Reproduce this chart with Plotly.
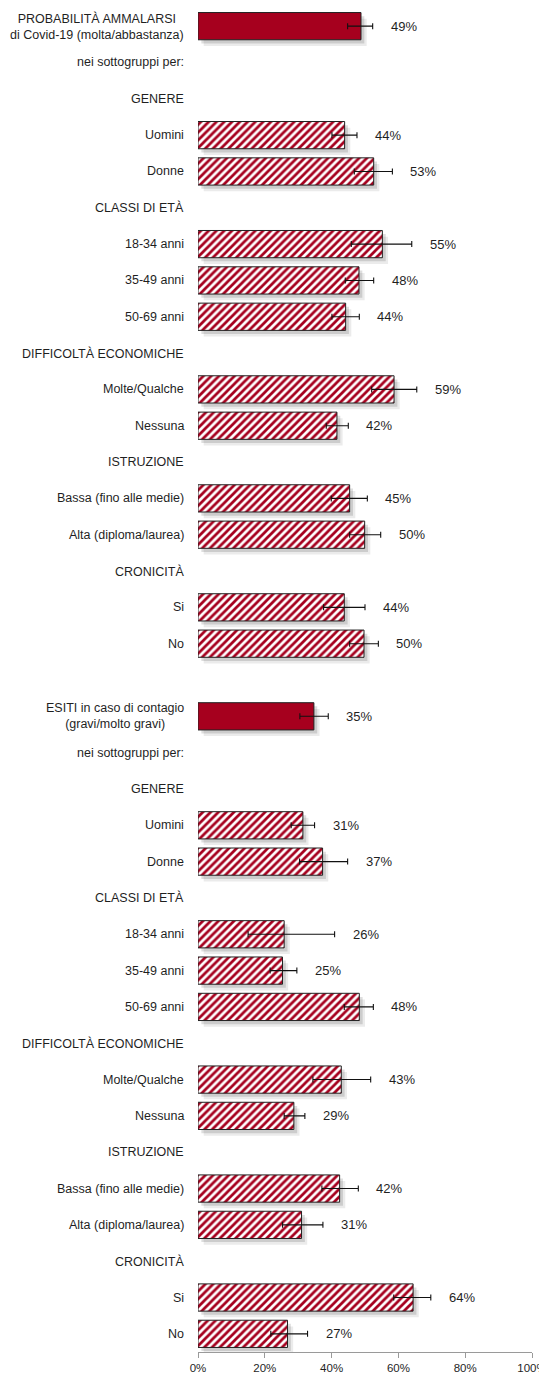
import plotly.graph_objects as go

FONT = "Liberation Sans, Arial, sans-serif"
TXT = "#1f1f1f"
RED = "#A6001E"

# ---- data ----
section_titles = [
    "PROBABILITÀ AMMALARSI<br>di Covid-19 (molta/abbastanza)",
    "ESITI in caso di contagio<br>(gravi/molto gravi)",
]
groups = [
    ("GENERE", ["Uomini", "Donne"]),
    ("CLASSI DI ETÀ", ["18-34 anni", "35-49 anni", "50-69 anni"]),
    ("DIFFICOLTÀ ECONOMICHE", ["Molte/Qualche", "Nessuna"]),
    ("ISTRUZIONE", ["Bassa (fino alle medie)", "Alta (diploma/laurea)"]),
    ("CRONICITÀ", ["Si", "No"]),
]
subtitle = "nei sottogruppi per:"

# values in %: total first, then subgroups in order
values_ammalarsi = [48.8, 43.9, 52.6, 55.2, 48.2, 44.2, 58.7, 41.6, 45.4, 49.9, 43.8, 49.7]
ci_low_ammalarsi = [44.8, 40.1, 46.8, 45.9, 44.1, 40.1, 52.0, 38.4, 39.9, 45.4, 37.6, 45.4]
ci_high_ammalarsi = [52.3, 47.6, 58.2, 64.0, 52.6, 48.3, 65.5, 45.0, 50.7, 54.7, 50.0, 54.0]

values_esiti = [34.7, 31.4, 37.3, 25.8, 25.3, 48.3, 42.9, 28.7, 42.4, 31.0, 64.4, 26.8]
ci_low_esiti = [30.5, 27.9, 30.4, 15.0, 21.6, 43.8, 34.4, 25.8, 37.1, 25.3, 58.6, 21.8]
ci_high_esiti = [39.0, 34.9, 44.8, 40.9, 29.6, 52.5, 51.7, 32.0, 48.0, 37.4, 69.7, 32.8]

x_ticks = [0, 20, 40, 60, 80, 100]
x_ticktext = ["0%", "20%", "40%", "60%", "80%", "100%"]

# ---- build row structure ----
rows = []  # (label, kind, value, lo, hi)
sections = [
    (section_titles[0], values_ammalarsi, ci_low_ammalarsi, ci_high_ammalarsi),
    (section_titles[1], values_esiti, ci_low_esiti, ci_high_esiti),
]
for si, (title, vals, lo, hi) in enumerate(sections):
    if si > 0:
        rows.append(("", "blank", None, None, None))
    rows.append((title, "total", vals[0], lo[0], hi[0]))
    rows.append((subtitle, "header", None, None, None))
    k = 1
    for gname, members in groups:
        rows.append((gname, "header", None, None, None))
        for m in members:
            rows.append((m, "sub", vals[k], lo[k], hi[k]))
            k += 1

n = len(rows)
BAR_W = 0.75

fig = go.Figure()

# soft drop shadows (drawn first)
bar_rows = [i for i, r in enumerate(rows) if r[2] is not None]
for alpha, dx, dy in [(0.08, 1.7, 0.17), (0.13, 1.0, 0.10)]:
    fig.add_trace(go.Bar(
        x=[rows[i][2] for i in bar_rows], y=bar_rows, orientation="h",
        width=BAR_W, offset=-BAR_W / 2 + dy, base=dx,
        marker=dict(color=f"rgba(0,0,0,{alpha})", line=dict(width=0)),
        hoverinfo="skip", showlegend=False,
    ))

def add_bars(kind, solid):
    ys = [i for i, r in enumerate(rows) if r[1] == kind]
    xs = [rows[i][2] for i in ys]
    plus = [rows[i][4] - rows[i][2] for i in ys]
    minus = [rows[i][2] - rows[i][3] for i in ys]
    marker = dict(line=dict(color="#222222", width=1))
    if solid:
        marker["color"] = RED
    else:
        marker["color"] = "white"
        marker["pattern"] = dict(shape="/", fgcolor=RED, bgcolor="white",
                                 size=5.5, solidity=0.5, fillmode="replace")
    fig.add_trace(go.Bar(
        x=xs, y=ys, orientation="h", width=BAR_W, marker=marker,
        error_x=dict(type="data", symmetric=False, array=plus, arrayminus=minus,
                     color="#111111", thickness=1.1, width=3),
        hoverinfo="skip", showlegend=False,
    ))

add_bars("total", True)
add_bars("sub", False)

annotations = []
for i, (label, kind, v, lo, hi) in enumerate(rows):
    if label:
        annotations.append(dict(
            x=0, xref="paper", y=i, yref="y", text=label, showarrow=False,
            xanchor="right", align="center", xshift=-12,
            font=dict(family=FONT, size=12.5, color=TXT),
        ))
    if v is not None:
        annotations.append(dict(
            x=hi, xref="x", y=i, yref="y", text=f"{round(v)}%", showarrow=False,
            xanchor="left", xshift=16,
            font=dict(family=FONT, size=13, color=TXT),
        ))

# clipped text at the right edge
for i, (label, kind, v, lo, hi) in enumerate(rows):
    if label.startswith("Bassa"):
        annotations.append(dict(
            x=1.027, xref="paper", y=i, yref="y", yshift=-3, text="E", showarrow=False,
            xanchor="left", font=dict(family=FONT, size=13, color="#333333"),
        ))

fig.update_layout(
    width=539, height=1369,
    margin=dict(l=190, r=15, t=0, b=25),
    plot_bgcolor="white", paper_bgcolor="white",
    barmode="overlay",
    annotations=annotations,
    font=dict(family=FONT, size=13, color=TXT),
    xaxis=dict(range=[0, 100], tickvals=x_ticks, ticktext=x_ticktext,
               showgrid=False, zeroline=False, showline=True, linecolor="#9a9a9a",
               ticks="outside", ticklen=5, tickcolor="#9a9a9a", automargin=False,
               ticklabeloverflow="allow",
               tickfont=dict(family=FONT, size=11.5, color=TXT)),
    yaxis=dict(range=[n - 0.5, -0.5], visible=False, automargin=False),
)

fig.write_html("out.html")
